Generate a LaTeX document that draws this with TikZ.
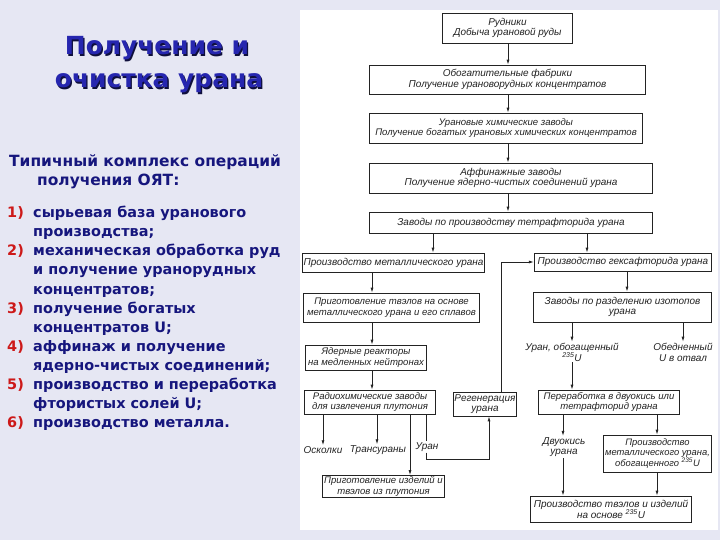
\documentclass[tikz,border=0pt]{standalone}
\usepackage{fontspec}
\setmainfont{DejaVu Sans}
\newfontfamily\leftfont{DejaVu Sans}
\newfontfamily\scanfont{Liberation Sans}
\usetikzlibrary{arrows.meta}
\definecolor{bgcol}{RGB}{230,231,243}
\definecolor{navy}{RGB}{22,22,125}
\definecolor{titleblue}{RGB}{38,38,175}
\definecolor{shadowcol}{RGB}{15,15,60}
\definecolor{numred}{RGB}{205,25,25}
\definecolor{ink}{RGB}{35,35,35}
\begin{document}
\begin{tikzpicture}[x=1bp,y=-1bp,
  box/.style={draw=ink, line width=0.8bp, inner sep=1bp, text=ink, align=center,
    font=\scanfont\itshape\fontsize{10}{10.8}\selectfont},
  lab/.style={inner sep=1bp, text=ink, align=center,
    font=\scanfont\itshape\fontsize{10}{10.8}\selectfont},
  arr/.style={draw=ink, line width=0.8bp, -{Latex[length=5bp,width=3bp]}},
  ln/.style={draw=ink, line width=0.8bp},
  ttl/.style={font=\leftfont\bfseries\fontsize{25}{30}\selectfont, inner sep=0pt},
  sub/.style={font=\leftfont\bfseries\fontsize{15.5}{19}\selectfont, text=navy, inner sep=0pt, anchor=base west},
  itm/.style={font=\leftfont\bfseries\fontsize{14.5}{19}\selectfont, text=navy, inner sep=0pt, anchor=base west},
  num/.style={font=\leftfont\bfseries\fontsize{14.5}{19}\selectfont, text=numred, inner sep=0pt, anchor=base west}
]
\useasboundingbox (0,0) rectangle (720,540);
\fill[bgcol] (0,0) rectangle (720,540);
\fill[white] (300,10) rectangle (718,530);

% ---------- left column ----------
\node[ttl, text=shadowcol, anchor=base] (t1s) at (158.3,56.3) {Получение и};
\node[ttl, text=titleblue, anchor=base] (t1) at (157,55) {Получение и};
\node[ttl, text=shadowcol, anchor=base] (t2s) at (160.3,89.3) {очистка урана};
\node[ttl, text=titleblue, anchor=base] (t2) at (159,88) {очистка урана};

\node[sub] (s1) at (9,167) {Типичный комплекс операций};
\node[sub] (s2) at (37,186) {получения ОЯТ:};

\node[num] (n1) at (7,218) {1)};
\node[itm] (i1a) at (33,218) {сырьевая база уранового};
\node[itm] (i1b) at (33,237) {производства;};
\node[num] (n2) at (7,256) {2)};
\node[itm] (i2a) at (33,256) {механическая обработка руд};
\node[itm] (i2b) at (33,275) {и получение уранорудных};
\node[itm] (i2c) at (33,294) {концентратов;};
\node[num] (n3) at (7,313) {3)};
\node[itm] (i3a) at (33,313) {получение богатых};
\node[itm] (i3b) at (33,332) {концентратов U;};
\node[num] (n4) at (7,351) {4)};
\node[itm] (i4a) at (33,351) {аффинаж и получение};
\node[itm] (i4b) at (33,370) {ядерно-чистых соединений;};
\node[num] (n5) at (7,389) {5)};
\node[itm] (i5a) at (33,389) {производство и переработка};
\node[itm] (i5b) at (33,408) {фтористых солей U;};
\node[num] (n6) at (7,427) {6)};
\node[itm] (i6a) at (33,427) {производство металла.};

% ---------- flow chart ----------
\node[box, minimum width=131, minimum height=30] (rud) at (507.5,28) {Рудники\\Добыча урановой руды};
\node[box, minimum width=277, minimum height=29] (obog) at (507.5,79.5) {Обогатительные фабрики\\Получение урановорудных концентратов};
\node[box, minimum width=274, minimum height=30, font=\scanfont\itshape\fontsize{9.6}{10.8}\selectfont] (chem) at (506,128) {Урановые химические заводы\\Получение богатых урановых химических концентратов};
\node[box, minimum width=284, minimum height=30] (aff) at (511,178) {Аффинажные заводы\\Получение ядерно-чистых соединений урана};
\node[box, minimum width=284, minimum height=21] (tetra) at (511,222.5) {Заводы по производству тетрафторида урана};
\node[box, minimum width=183, minimum height=19] (metal) at (393.5,262.5) {Производство металлического урана};
\node[box, minimum width=178, minimum height=18] (hexa) at (623,262) {Производство гексафторида урана};
\node[box, minimum width=177, minimum height=29, font=\scanfont\itshape\fontsize{9.6}{10.8}\selectfont] (tvel) at (391.5,307.5) {Приготовление твэлов на основе\\металлического урана и его сплавов};
\node[box, minimum width=179, minimum height=30] (sep) at (622.5,307) {Заводы по разделению изотопов\\урана};
\node[box, minimum width=122, minimum height=25, font=\scanfont\itshape\fontsize{9.6}{10.8}\selectfont] (react) at (366,357.5) {Ядерные реакторы\\на медленных нейтронах};
\node[box, minimum width=132, minimum height=24, font=\scanfont\itshape\fontsize{9.6}{10.8}\selectfont] (rad) at (370,402) {Радиохимические заводы\\для извлечения плутония};
\node[box, minimum width=64, minimum height=24] (reg) at (485,404) {Регенерация\\урана};
\node[box, minimum width=142, minimum height=24, font=\scanfont\itshape\fontsize{9.6}{10.8}\selectfont] (perer) at (609,402) {Переработка в двуокись или\\тетрафторид урана};
\node[box, minimum width=123, minimum height=22, font=\scanfont\itshape\fontsize{9.6}{10.8}\selectfont] (pu) at (383.5,486.5) {Приготовление изделий и\\твэлов из плутония};
\node[box, minimum width=109, minimum height=37, font=\scanfont\itshape\fontsize{9.4}{10.6}\selectfont] (enrm) at (657.5,453.5) {Производство\\металлического урана,\\обогащенного \textsuperscript{235}U};
\node[box, minimum width=162, minimum height=26] (fuel) at (611,509) {Производство твэлов и изделий\\на основе \textsuperscript{235}U};

\node[lab] (enr) at (572,352) {Уран, обогащенный\\\textsuperscript{235}U};
\node[lab] (dep) at (683,352) {Обедненный\\U в отвал};
\node[lab] (osk) at (323,450) {Осколки};
\node[lab] (trans) at (378,450) {Трансураны};
\node[lab] (ulab) at (427,447) {Уран};
\node[lab] (diox) at (564,447) {Двуокись\\урана};

% x positions of vertical connectors
\coordinate (xa) at (433,0);
\coordinate (xb) at (587,0);
\coordinate (xc) at (372,0);
\coordinate (xd) at (627,0);
\coordinate (xe) at (572,0);
\coordinate (xf) at (683,0);
\coordinate (xg) at (501,0);
\coordinate (xh) at (323,0);
\coordinate (xi) at (377,0);
\coordinate (xj) at (410,0);
\coordinate (xk) at (426,0);
\coordinate (xl) at (489,0);
\coordinate (xm) at (563,0);
\coordinate (xn) at (657,0);
\coordinate (xo) at (508,0);
\coordinate (yu) at (0,459);

\draw[arr] (rud.south -| xo) -- (obog.north -| xo);
\draw[arr] (obog.south -| xo) -- (chem.north -| xo);
\draw[arr] (chem.south -| xo) -- (aff.north -| xo);
\draw[arr] (aff.south -| xo) -- (tetra.north -| xo);
\draw[arr] (tetra.south -| xa) -- (metal.north -| xa);
\draw[arr] (tetra.south -| xb) -- (hexa.north -| xb);
\draw[arr] (metal.south -| xc) -- (tvel.north -| xc);
\draw[arr] (tvel.south -| xc) -- (react.north -| xc);
\draw[arr] (react.south -| xc) -- (rad.north -| xc);
\draw[arr] (hexa.south -| xd) -- (sep.north -| xd);
\draw[arr] (sep.south -| xe) -- (enr.north -| xe);
\draw[arr] (sep.south -| xf) -- (dep.north -| xf);
\draw[arr] (enr.south -| xe) -- (perer.north -| xe);
\draw[arr] (reg.north -| xg) |- (hexa.west);
\draw[arr] (rad.south -| xh) -- (osk.north -| xh);
\draw[arr] (rad.south -| xi) -- (trans.north -| xi);
\draw[arr] (rad.south -| xj) -- (pu.north -| xj);
\draw[ln] (rad.south -| xk) -- (ulab.north -| xk);
\draw[arr] (ulab.south -| xk) -- (yu -| xk) -- (yu -| xl) -- (reg.south -| xl);
\draw[arr] (perer.south -| xm) -- (diox.north -| xm);
\draw[arr] (diox.south -| xm) -- (fuel.north -| xm);
\draw[arr] (perer.south -| xn) -- (enrm.north -| xn);
\draw[arr] (enrm.south -| xn) -- (fuel.north -| xn);
\end{tikzpicture}
\end{document}
